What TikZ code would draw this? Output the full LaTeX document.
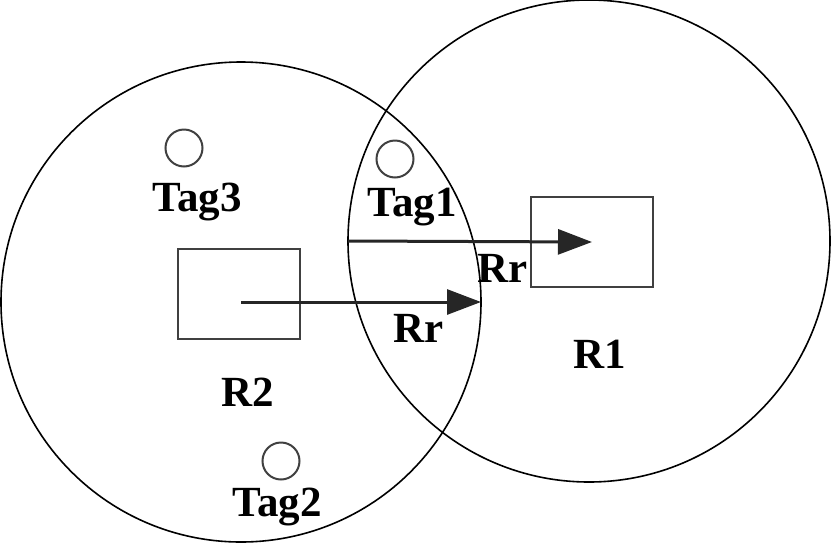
\documentclass[tikz,border=0pt]{standalone}
\usepackage{fontspec}
\setmainfont{Liberation Serif}
\usetikzlibrary{arrows.meta, positioning}

\begin{document}
\begin{tikzpicture}[x=1pt, y=-1pt,
        zone/.style={draw=black, circle, line width=1.6pt, minimum size=480pt, inner sep=0pt, outer sep=0pt},
        reader/.style={draw=black!75, rectangle, line width=2.5pt, minimum width=122pt, minimum height=90pt, inner sep=0pt},
        tag/.style={draw=black!75, circle, line width=2pt, minimum size=37pt, inner sep=0pt},
        lbl/.style={font=\fontsize{43}{50}\selectfont\bfseries, inner sep=0pt},
        rrarrow/.style={-{Triangle[length=34pt, width=25pt]}, line width=3pt, black!85}]
        \useasboundingbox (0, 0) rectangle (831, 542);
        % reading zones
        \coordinate (o1) at (589, 241);
        \coordinate (o2) at (241, 302);
        \node[zone] (c2) at (o2) {};
        \node[zone, minimum size=482pt] (c1) at (o1) {};
        % readers
        \node[reader] (r1) at (592, 242) {};
        \node[reader] (r2) at (239, 294) {};
        \node[lbl, below=52pt of r1, xshift=8pt] (n1) {R1};
        \node[lbl, below=38pt of r2, xshift=9pt] (n2) {R2};
        % tags
        \node[tag] (t1) at (395, 159) {};
        \node[tag] (t2) at (281, 461) {};
        \node[tag] (t3) at (184, 148) {};
        \node[lbl, below=9pt of t1, xshift=17pt] (l1) {Tag1};
        \node[lbl, below=7pt of t2, xshift=-4pt] (l2) {Tag2};
        \node[lbl, below=15pt of t3, xshift=13pt] (l3) {Tag3};
        % ranges
        \draw[rrarrow] (c1.west) -- (r1.center);
        \draw[rrarrow] (o2) -- (c2.east);
        \node[lbl] (rr1) at (503, 268) {Rr};
        \node[lbl] (rr2) at (419, 328) {Rr};
    \end{tikzpicture}
\end{document}
